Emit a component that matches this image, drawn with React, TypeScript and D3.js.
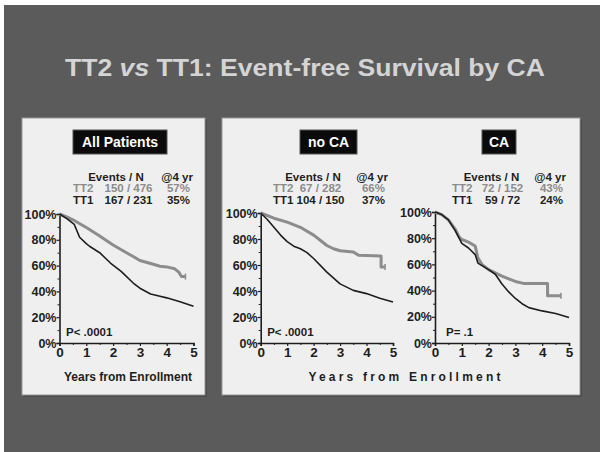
import React, { useEffect, useRef } from "react";
import * as d3 from "d3";

// ---------- data ----------
const panelTitles = ["All Patients", "no CA", "CA"];
const seriesNames = ["TT2", "TT1"];
const countsTT2 = ["150 / 476", "67 / 282", "72 / 152"];
const countsTT1 = ["167 / 231", "104 / 150", "59 / 72"];
const pct4TT2 = ["57%", "66%", "43%"];
const pct4TT1 = ["35%", "37%", "24%"];
const pValues = ["P< .0001", "P< .0001", "P= .1"];
const yearTicks = [0, 1, 2, 3, 4, 5];
const pctTicks = [0, 20, 40, 60, 80, 100];

// [years, % event-free]
const allTT2: [number, number][] = [
  [0, 100], [0.25, 98], [0.5, 95.5], [1, 89.5], [1.5, 83], [2, 76], [2.5, 70], [2.75, 67],
  [3, 64], [3.5, 61], [3.75, 59.5], [4, 59], [4.3, 57.5], [4.45, 55], [4.55, 51.5], [4.7, 51.5],
];
const allTT1: [number, number][] = [
  [0, 100], [0.3, 96], [0.55, 92], [0.75, 82], [1, 77], [1.12, 75], [1.5, 70], [1.9, 62],
  [2.3, 55.5], [2.75, 46.5], [3, 42.5], [3.4, 38], [3.75, 36.3], [4, 35], [4.5, 32], [5, 28.5],
];
const noCaTT2: [number, number][] = [
  [0, 100], [0.5, 96], [1, 93], [1.5, 89], [2, 83], [2.25, 79], [2.5, 75], [2.75, 72.5],
  [3, 71], [3.5, 70], [3.7, 67.5], [4.55, 67], [4.55, 58.5], [4.7, 58.5],
];
const noCaTT1: [number, number][] = [
  [0, 100], [0.25, 95], [0.5, 89], [0.75, 83], [1, 78], [1.25, 74.5], [1.5, 72.5], [1.75, 69.5],
  [2, 65], [2.5, 54.5], [3, 45.5], [3.5, 40.5], [4, 38], [4.5, 34.5], [5, 31.5],
];
const caTT2: [number, number][] = [
  [0, 100], [0.25, 98], [0.5, 94], [0.75, 87], [0.9, 81], [1, 79], [1.25, 77], [1.5, 74],
  [1.6, 65], [1.75, 60], [2, 56], [2.5, 51], [3, 47], [3.3, 45.5], [4.2, 45.5], [4.2, 36], [4.7, 36],
];
const caTT1: [number, number][] = [
  [0, 100], [0.25, 98], [0.5, 94], [0.75, 86], [0.9, 80], [1, 76], [1.25, 72.5], [1.5, 67.5],
  [1.6, 61], [2, 56], [2.25, 52.5], [2.5, 45], [2.75, 39], [3, 34], [3.25, 30], [3.5, 27],
  [4, 24.5], [4.5, 22.5], [5, 19.5],
];
const curvesTT2 = [allTT2, noCaTT2, caTT2];
const curvesTT1 = [allTT1, noCaTT1, caTT1];

// ---------- layout ----------
const layout = [
  { ax: 59.5, ex: 193.5, yTop: 214, yBot: 343, tl: 73, cnt: 128.5, head: 116, pct: 190, box: 120, boxW: 94 },
  { ax: 260.7, ex: 393, yTop: 213, yBot: 343, tl: 273, cnt: 320.5, head: 313, pct: 385, box: 328.5, boxW: 57 },
  { ax: 435, ex: 569, yTop: 212, yBot: 343, tl: 452, cnt: 502.5, head: 491.5, pct: 563, box: 499, boxW: 34 },
];

const FONT = "'Liberation Sans', Arial, sans-serif";
const GREY = "#8c8c8c";
const DARK = "#1e1e1e";

export default function App() {
  const ref = useRef<SVGSVGElement>(null);

  useEffect(() => {
    const svg = d3.select(ref.current);
    svg.selectAll("*").remove();

    svg.append("rect").attr("width", 600).attr("height", 452).attr("fill", "#ffffff");
    svg.append("rect").attr("x", 4).attr("y", 5).attr("width", 596).attr("height", 447).attr("fill", "#5b5b5b");

    // title
    const title = svg.append("text").attr("x", 65).attr("y", 76)
      .attr("textLength", 480).attr("lengthAdjust", "spacingAndGlyphs")
      .attr("font-family", FONT).attr("font-weight", "bold").attr("font-size", 24).attr("fill", "#d4d4d4");
    title.append("tspan").text("TT2 ");
    title.append("tspan").attr("font-style", "italic").text("vs");
    title.append("tspan").text(" TT1: Event-free Survival by CA");

    // panels
    const panelRects = [
      { x: 22, y: 118, w: 183, h: 277 },
      { x: 222, y: 118, w: 358, h: 277 },
    ];
    panelRects.forEach((p) => {
      svg.append("rect").attr("x", p.x + 1.5).attr("y", p.y + 1.5).attr("width", p.w).attr("height", p.h).attr("fill", "#3e3e3e");
      svg.append("rect").attr("x", p.x).attr("y", p.y).attr("width", p.w).attr("height", p.h)
        .attr("fill", "#efefef").attr("stroke", "#9a9a9a").attr("stroke-width", 1);
    });

    layout.forEach((L, i) => {
      const x = d3.scaleLinear().domain([0, 5]).range([L.ax, L.ex]);
      const y = d3.scaleLinear().domain([0, 100]).range([L.yBot, L.yTop]);
      const g = svg.append("g").attr("font-family", FONT);

      // title box
      g.append("rect").attr("x", L.box - L.boxW / 2).attr("y", 130).attr("width", L.boxW).attr("height", 24)
        .attr("fill", "#0a0a0a").attr("stroke", "#555").attr("stroke-width", 1);
      g.append("text").attr("x", L.box).attr("y", 147).attr("text-anchor", "middle").attr("font-weight", "bold")
        .attr("font-size", 14).attr("fill", "#ffffff").text(panelTitles[i]);

      // legend table
      const tx = g.append("g").attr("font-weight", "bold").attr("font-size", 11.5);
      tx.append("text").attr("x", L.head).attr("y", 181).attr("text-anchor", "middle").attr("fill", DARK).text("Events / N");
      tx.append("text").attr("x", L.pct + 3).attr("y", 181).attr("text-anchor", "end").attr("fill", DARK).text("@4 yr");
      const rows = [
        { name: seriesNames[0], c: countsTT2[i], p: pct4TT2[i], col: GREY, yy: 192 },
        { name: seriesNames[1], c: countsTT1[i], p: pct4TT1[i], col: DARK, yy: 204 },
      ];
      rows.forEach((r) => {
        tx.append("text").attr("x", L.tl).attr("y", r.yy).attr("fill", r.col).text(r.name);
        tx.append("text").attr("x", L.cnt).attr("y", r.yy).attr("text-anchor", "middle").attr("fill", r.col).text(r.c);
        tx.append("text").attr("x", L.pct).attr("y", r.yy).attr("text-anchor", "end").attr("fill", r.col).text(r.p);
      });

      // axes
      const yAxis = d3.axisLeft(y).tickValues(pctTicks).tickFormat((d) => `${d}%`).tickSize(3).tickPadding(0);
      const ya = g.append("g").attr("transform", `translate(${L.ax},0)`).call(yAxis);
      const yMinor = d3.axisLeft(y).tickValues(d3.range(10, 100, 20)).tickFormat(() => "").tickSize(2);
      g.append("g").attr("transform", `translate(${L.ax},0)`).call(yMinor).select(".domain").remove();
      const xAxis = d3.axisBottom(x).tickValues(yearTicks).tickFormat(d3.format("d")).tickSize(3).tickPadding(1);
      const xa = g.append("g").attr("transform", `translate(0,${L.yBot})`).call(xAxis);
      const xMinor = d3.axisBottom(x).tickValues([0.5, 1.5, 2.5, 3.5, 4.5]).tickFormat(() => "").tickSize(2);
      g.append("g").attr("transform", `translate(0,${L.yBot})`).call(xMinor).select(".domain").remove();
      [ya, xa].forEach((a) => {
        a.selectAll("path.domain").attr("stroke", DARK).attr("stroke-width", 1.6);
        a.selectAll("line").attr("stroke", DARK).attr("stroke-width", 1.2);
        a.selectAll("text").attr("font-family", FONT).attr("font-weight", "bold").attr("fill", DARK);
      });
      ya.selectAll("text").attr("font-size", 12.5);
      xa.selectAll("text").attr("font-size", 13.5);
      g.selectAll("g.tick line").attr("stroke", DARK);

      // curves
      const line = d3.line<[number, number]>().x((d) => x(d[0])).y((d) => y(d[1])).curve(d3.curveLinear);
      g.append("path").datum(curvesTT2[i]).attr("d", line).attr("fill", "none").attr("stroke", GREY)
        .attr("stroke-width", 3).attr("stroke-linejoin", "round");
      const last = curvesTT2[i][curvesTT2[i].length - 1];
      g.append("line").attr("x1", x(last[0])).attr("x2", x(last[0])).attr("y1", y(last[1]) - 3).attr("y2", y(last[1]) + 3)
        .attr("stroke", GREY).attr("stroke-width", 1.5);
      g.append("path").datum(curvesTT1[i]).attr("d", line).attr("fill", "none").attr("stroke", DARK)
        .attr("stroke-width", 1.6).attr("stroke-linejoin", "round");

      // p value
      g.append("text").attr("x", L.ax + (i === 2 ? 11 : 6.5)).attr("y", 336).attr("font-weight", "bold")
        .attr("font-size", 11.5).attr("fill", DARK).text(pValues[i]);
    });

    // x labels
    svg.append("text").attr("x", 128).attr("y", 381).attr("text-anchor", "middle").attr("font-family", FONT)
      .attr("font-weight", "bold").attr("font-size", 12).attr("fill", DARK).text("Years from Enrollment");
    svg.append("text").attr("x", 406).attr("y", 381).attr("text-anchor", "middle").attr("font-family", FONT)
      .attr("font-weight", "bold").attr("font-size", 12).attr("letter-spacing", 3.2).attr("fill", DARK)
      .text("Years from Enrollment");
  }, []);

  return (
    <svg ref={ref} width={600} height={452} style={{ position: "fixed", left: 0, top: 0, display: "block" }} />
  );
}
